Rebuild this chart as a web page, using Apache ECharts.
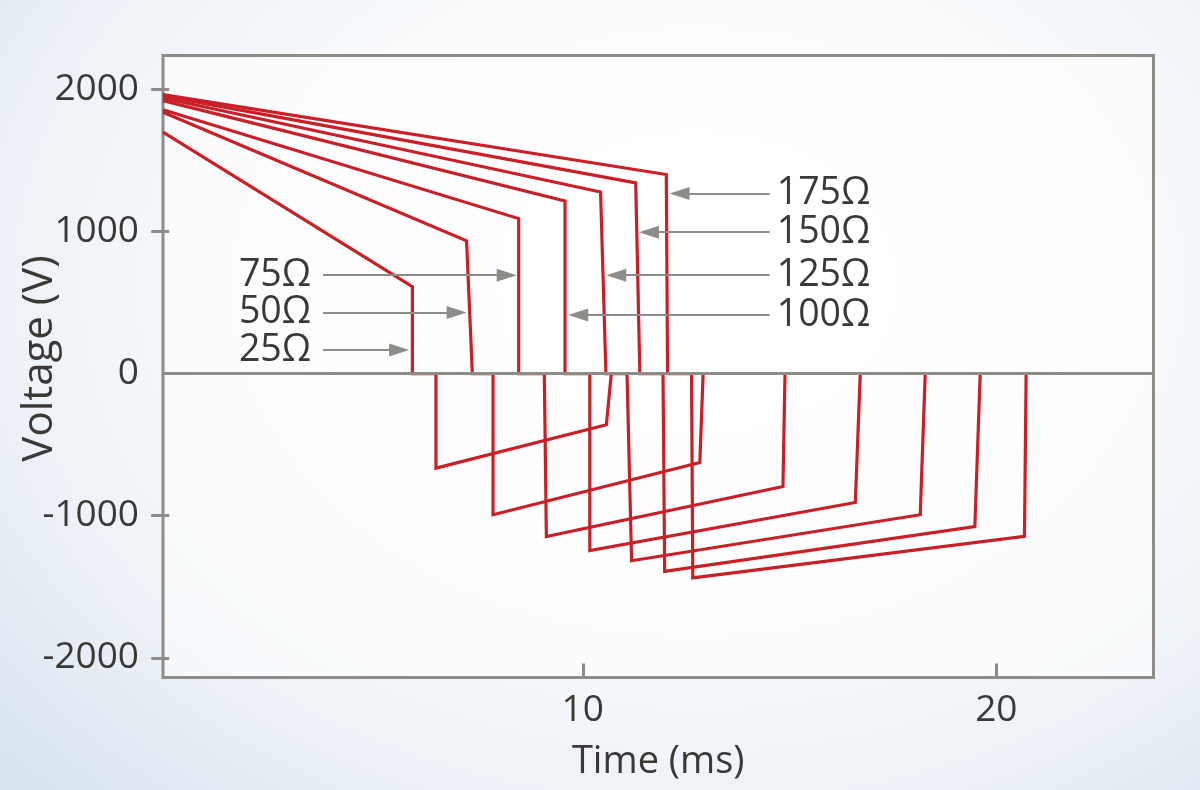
<!DOCTYPE html>
<html>
<head>
<meta charset="utf-8">
<script src="https://cdn.jsdelivr.net/npm/echarts@6/dist/echarts.min.js"></script>
<style>
  html, body { margin: 0; padding: 0; }
  body {
    width: 1200px; height: 790px; overflow: hidden;
    background: radial-gradient(ellipse 78% 90% at 58% 36%, #ffffff 0%, #fbfcfd 40%, #eef3f8 72%, #d9e4ef 100%);
  }
  #chart { width: 1200px; height: 790px; }
</style>
</head>
<body>
<div id="chart"></div>
<script>
// ---- data ----
const resistances = ['25Ω', '50Ω', '75Ω', '100Ω', '125Ω', '150Ω', '175Ω'];
const startT   = -0.15;                                         // ms, left edge of plot
const startV   = [1701, 1840, 1858, 1922, 1941, 1956, 1965];    // V at start
const kneeT    = [5.88, 7.19, 8.45, 9.57, 10.43, 11.28, 12.02]; // end of positive ramp
const kneeV    = [612, 935, 1092, 1216, 1279, 1343, 1402];
const zeroT    = [5.88, 7.33, 8.45, 9.57, 10.56, 11.38, 12.05]; // reaches 0 V
const negT1    = [6.45, 7.83, 9.07, 10.17, 11.07, 11.94, 12.63];// leaves 0 V (negative)
const negT2    = [6.45, 7.83, 9.12, 10.17, 11.18, 11.98, 12.66];// trough time
const troughV  = [-665, -993, -1146, -1246, -1317, -1392, -1438];
const recovT   = [10.57, 12.83, 14.84, 16.59, 18.16, 19.48, 20.68];
const recovV   = [-360, -626, -794, -907, -993, -1076, -1146];
const endT     = [10.69, 12.91, 14.89, 16.71, 18.28, 19.61, 20.72];

const xTicks = [10, 20];
const yTicks = [-2000, -1000, 1000, 2000];
const yLabels = [-2000, -1000, 0, 1000, 2000];

// ---- annotation arrow layout (label anchor time, arrow tip time, voltage) ----
const arrowFromT = [3.72, 3.72, 3.72, 14.52, 14.52, 14.52, 14.52];
const arrowToT   = [5.56, 6.95, 8.16, 9.89, 10.81, 11.60, 12.34];
const arrowV     = [167, 430, 693, 413, 693, 996, 1268];

const RED = '#cb1f27';
const GRAY = '#8e8c88';
const TEXT = '#3b3936';
const FONT = "'Open Sans', 'Noto Sans', sans-serif";

const series = resistances.map((name, i) => {
  const data = [
    [startT, startV[i]],
    [kneeT[i], kneeV[i]],
    [zeroT[i], 0],
    [negT1[i], 0],
    [negT2[i], troughV[i]],
    [recovT[i], recovV[i]],
    [endT[i], 0]
  ];
  const mlData = [[
    {
      coord: [arrowFromT[i], arrowV[i]],
      symbol: 'none',
      symbolSize: 1,
      lineStyle: { color: GRAY, width: 2, type: 'solid' },
      label: {
        show: true, position: 'start', formatter: name,
        fontSize: 37.5, fontFamily: FONT, color: TEXT,
        distance: i < 3 ? 12 : 7
      }
    },
    { coord: [arrowToT[i], arrowV[i]], symbol: 'triangle', symbolSize: [13, 20] }
  ]];
  if (i === 0) {
    mlData.push({
      yAxis: 0, symbol: 'none',
      lineStyle: { color: GRAY, width: 3, type: 'solid' },
      label: { show: false }
    });
  }
  return {
    name: name,
    type: 'line',
    data: data,
    showSymbol: false,
    symbol: 'none',
    lineStyle: { color: RED, width: 3.2, join: 'miter' },
    itemStyle: { color: RED },
    animation: false,
    silent: true,
    markLine: {
      silent: true,
      animation: false,
      symbol: ['none', 'none'],
      itemStyle: { color: GRAY },
      lineStyle: { color: GRAY, width: 2, type: 'solid' },
      emphasis: { disabled: true },
      data: mlData
    }
  };
});

const chart = echarts.init(document.getElementById('chart'), null, { renderer: 'canvas' });
chart.setOption({
  backgroundColor: 'transparent',
  animation: false,
  textStyle: { fontFamily: FONT },
  grid: {
    left: 163, right: 46.5, top: 55.5, bottom: 112.5,
    show: true,
    borderColor: GRAY, borderWidth: 3,
    backgroundColor: 'rgba(255,255,255,0.55)',
    containLabel: false,
    outerBoundsMode: 'none'
  },
  xAxis: {
    type: 'value',
    min: -0.15, max: 23.8,
    name: 'Time (ms)',
    nameLocation: 'middle',
    nameGap: 66,
    nameMoveOverlap: false,
    nameTextStyle: { fontSize: 38, color: TEXT, fontFamily: FONT },
    axisLine: { show: false, onZero: false },
    splitLine: { show: false },
    axisTick: { show: true, inside: true, length: 14, customValues: xTicks,
                lineStyle: { color: GRAY, width: 3 } },
    axisLabel: { customValues: xTicks, fontSize: 37, color: TEXT, fontFamily: FONT, margin: 14,
                 formatter: v => String(v) }
  },
  yAxis: {
    type: 'value',
    min: -2139, max: 2240,
    name: 'Voltage (V)',
    nameLocation: 'middle',
    nameGap: 102,
    nameRotate: 90,
    nameMoveOverlap: false,
    nameTextStyle: { fontSize: 42, color: TEXT, fontFamily: FONT, padding: [0, 0, 0, 16] },
    axisLine: { show: false },
    splitLine: { show: false },
    axisTick: { show: true, inside: false, length: 18, customValues: yTicks,
                lineStyle: { color: GRAY, width: 3 } },
    axisLabel: { customValues: yLabels, fontSize: 37, color: TEXT, fontFamily: FONT, margin: 24,
                 padding: [6, 0, 0, 0], formatter: v => String(v) }
  },
  series: series
});
</script>
</body>
</html>
